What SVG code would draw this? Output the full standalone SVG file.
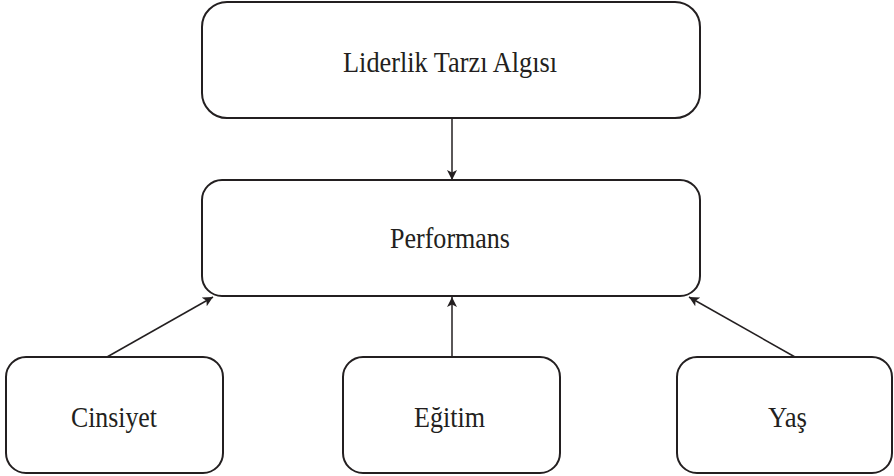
<svg xmlns="http://www.w3.org/2000/svg" width="894" height="476" viewBox="0 0 894 476">
<style>
.box{fill:#fff;stroke:#231f20;stroke-width:2}
.lbl{font-family:'Liberation Serif','Times New Roman','DejaVu Serif',serif;font-size:30px;fill:#231f20;text-anchor:middle}
.con{stroke:#231f20;stroke-width:1.5;fill:none;marker-end:url(#ah)}
</style>
<defs>
<marker id="ah" viewBox="0 0 10 10" refX="10" refY="5" markerWidth="10" markerHeight="10" markerUnits="userSpaceOnUse" orient="auto">
<path d="M0,0 L10,5 L0,10 L2.5,5 Z" fill="#231f20"/>
</marker>
</defs>
<rect width="894" height="476" fill="#fff"/>
<g id="connectors">
<line class="con" x1="452" y1="118" x2="452" y2="180"/>
<line class="con" x1="107" y1="357" x2="213" y2="297"/>
<line class="con" x1="452" y1="357" x2="452" y2="297"/>
<line class="con" x1="795" y1="357" x2="689" y2="297"/>
</g>
<g id="liderlik">
<rect class="box" x="202" y="2" width="498" height="116" rx="25"/>
<text class="lbl" font-family="Liberation Serif, serif" x="450" y="72" textLength="214" lengthAdjust="spacingAndGlyphs">Liderlik Tarzı Algısı</text>
</g>
<g id="performans">
<rect class="box" x="202" y="180" width="498" height="116" rx="20"/>
<text class="lbl" x="450" y="248" textLength="120" lengthAdjust="spacingAndGlyphs">Performans</text>
</g>
<g id="cinsiyet">
<rect class="box" x="6" y="357" width="217" height="116" rx="20"/>
<text class="lbl" x="114" y="427" textLength="86" lengthAdjust="spacingAndGlyphs">Cinsiyet</text>
</g>
<g id="egitim">
<rect class="box" x="343" y="357" width="217" height="116" rx="20"/>
<text class="lbl" x="449.5" y="427" textLength="71" lengthAdjust="spacingAndGlyphs">Eğitim</text>
</g>
<g id="yas">
<rect class="box" x="677" y="357" width="215" height="116" rx="20"/>
<text class="lbl" x="787.5" y="427" textLength="39" lengthAdjust="spacingAndGlyphs">Yaş</text>
</g>
</svg>
